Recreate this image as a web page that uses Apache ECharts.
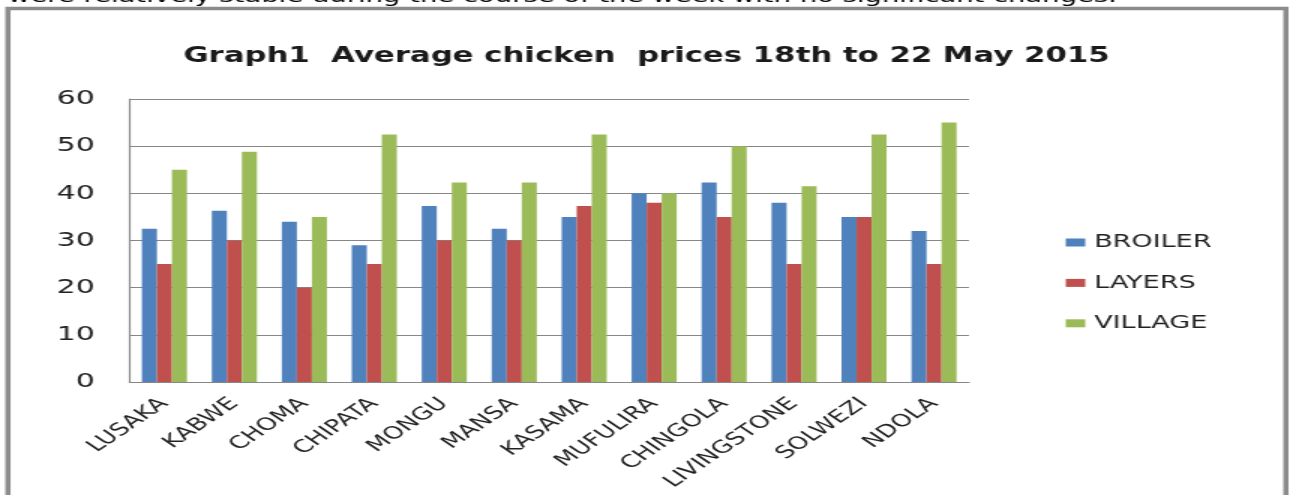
<!DOCTYPE html>
<html>
<head>
<meta charset="utf-8">
<script src="https://cdn.jsdelivr.net/npm/echarts@6/dist/echarts.min.js"></script>
<style>
html,body{margin:0;padding:0;background:#fff;overflow:hidden;width:1293px;height:495px;}
#c{width:862px;height:495px;transform:scaleX(1.5);transform-origin:0 0;}
</style>
</head>
<body>
<div id="c"></div>
<script>
const categories = ['LUSAKA','KABWE','CHOMA','CHIPATA','MONGU','MANSA','KASAMA','MUFULIRA','CHINGOLA','LIVINGSTONE','SOLWEZI','NDOLA'];
const broiler = [32.5, 36.3, 34, 29, 37.3, 32.5, 35, 40, 42.3, 38, 35, 32];
const layers  = [25, 30, 20, 25, 30, 30, 37.3, 38, 35, 25, 35, 25];
const village = [45, 48.8, 35, 52.5, 42.3, 42.3, 52.5, 40, 50, 41.5, 52.5, 55];
const seriesNames = ['BROILER','LAYERS','VILLAGE'];
const titleText = 'Graph1  Average chicken  prices 18th to 22 May 2015';
const topLine = 'were relatively stable during the course of the week with no significant changes.';

const chart = echarts.init(document.getElementById('c'), null, {renderer:'canvas'});
const FONT = 'DejaVu Sans';
const colors = ['#4F81BD','#C0504D','#9BBB59'];
const gridGray = '#878787';

chart.setOption({
  animation:false,
  color: colors,
  title:{
    text:titleText, left:'center', top:41,
    textStyle:{fontFamily:FONT, fontWeight:'bold', fontSize:20.5, color:'#1a1a1a', lineHeight:21}
  },
  graphic:[
    {type:'text', left:5.3, top:-11.5, silent:true,
     style:{text:topLine, font:'18.3px "DejaVu Sans"', fill:'#000'}},
    {type:'rect', silent:true, z:-1,
     shape:{x:5.3, y:8.5, width:852, height:600},
     style:{fill:'none', stroke:'#8c8c8c', lineWidth:3.5}}
  ],
  legend:{
    orient:'vertical', left:705.5, top:227.5, itemWidth:13, itemHeight:8, itemGap:20.4,
    icon:'rect', data:seriesNames,
    textStyle:{fontFamily:FONT, fontSize:18, color:'#222', lineHeight:20, padding:[0,0,0,1]}
  },
  grid:{left:86.3, top:99, width:559.7, height:283, containLabel:false},
  xAxis:{
    type:'category', data:categories,
    axisLine:{lineStyle:{color:gridGray, width:1.2}},
    axisTick:{show:false},
    axisLabel:{interval:0, rotate:45, margin:19, fontFamily:FONT, fontSize:17.5, color:'#222'}
  },
  yAxis:{
    type:'value', min:0, max:60, interval:10,
    axisLine:{show:true, lineStyle:{color:gridGray, width:1.2}},
    axisTick:{show:false},
    splitLine:{lineStyle:{color:gridGray, width:1.2}},
    axisLabel:{margin:23, fontFamily:FONT, fontSize:20, color:'#222'}
  },
  series:[
    {name:seriesNames[0], type:'bar', data:broiler, barGap:'0%', barCategoryGap:'35.6%'},
    {name:seriesNames[1], type:'bar', data:layers, barGap:'0%', barCategoryGap:'35.6%'},
    {name:seriesNames[2], type:'bar', data:village, barGap:'0%', barCategoryGap:'35.6%'}
  ]
});
</script>
</body>
</html>
